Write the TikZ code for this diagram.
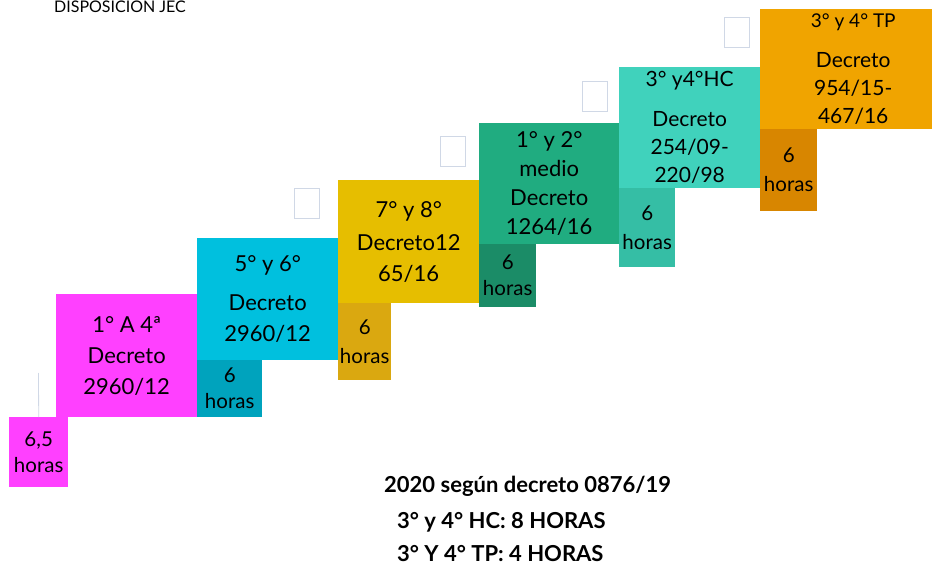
\documentclass[tikz,border=0pt]{standalone}
\usepackage{fontspec}
\setmainfont{Lato}
\definecolor{cPink}{RGB}{255,64,255}
\definecolor{cCyan}{RGB}{0,192,222}
\definecolor{cCyanD}{RGB}{0,163,189}
\definecolor{cYel}{RGB}{230,190,0}
\definecolor{cYelD}{RGB}{218,168,16}
\definecolor{cGrn}{RGB}{32,172,128}
\definecolor{cGrnD}{RGB}{27,140,103}
\definecolor{cTeal}{RGB}{64,210,188}
\definecolor{cTealD}{RGB}{53,190,165}
\definecolor{cOra}{RGB}{240,164,0}
\definecolor{cOraD}{RGB}{216,134,0}
\definecolor{cEdge}{RGB}{208,216,230}
\begin{document}
\begin{tikzpicture}[x=1pt,y=-1pt,
  blk/.style={draw=none, inner sep=0pt, anchor=north west, align=center, text=black,
    font=\fontsize{22}{31}\selectfont},
  sub/.style={blk, font=\fontsize{20.5}{26}\selectfont},
  emptybox/.style={draw=cEdge, line width=1pt, fill=white, inner sep=0pt, anchor=north west,
    minimum width=25pt, minimum height=30pt},
  note/.style={anchor=base west, inner sep=0pt, font=\bfseries\fontsize{22}{26}\selectfont}]
\useasboundingbox (0,0) rectangle (932,572);
\clip (0,0) rectangle (932,572);
\fill[white] (0,0) rectangle (932,572);

\node[anchor=base west, inner sep=0pt, font=\fontsize{16}{18}\selectfont] (title) at (54,13) {DISPOSICIÓN JEC};

% empty squares
\node[emptybox] (e1) at (294,188) {};
\node[emptybox] (e2) at (440,136) {};
\node[emptybox] (e3) at (582,81) {};
\node[emptybox] (e4) at (724,17) {};

% pink
\node[blk, fill=cPink, minimum width=141pt, minimum height=123pt] (p1) at (56,294)
  {1° A 4ª\\Decreto\\2960/12};
\node[sub, fill=cPink, minimum width=59pt, minimum height=70pt] (p2) at (9,417)
  {6,5\\horas};
\coordinate (ptop) at (38.5,373);
\draw[cEdge, line width=0.8pt] (ptop) -- (p2.north);

% cyan
\node[blk, fill=cCyan, minimum width=141pt, minimum height=122pt] (c1) at (197,238)
  {5° y 6°\\[8pt]Decreto\\2960/12};
\node[sub, fill=cCyanD, minimum width=65pt, minimum height=57pt] (c2) at (197,360)
  {6\\horas};

% yellow
\node[blk, fill=cYel, minimum width=141pt, minimum height=123pt] (y1) at (338,180)
  {7° y 8°\\[2pt]Decreto12\\65/16};
\node[sub, fill=cYelD, minimum width=53pt, minimum height=77pt] (y2) at (338,303)
  {6\\[3pt]horas};

% green
\node[blk, fill=cGrn, minimum width=140pt, minimum height=121pt,
  font=\fontsize{22}{29}\selectfont] (g1) at (479,123)
  {1° y 2°\\medio\\Decreto\\1264/16};
\node[sub, fill=cGrnD, minimum width=57pt, minimum height=63pt] (g2) at (479,244)
  {6\\horas};

% teal
\node[blk, fill=cTeal, minimum width=141pt, minimum height=121pt,
  font=\fontsize{21}{28}\selectfont] (t1) at (619,67)
  {3° y4°HC\\[12pt]Decreto\\254/09-\\220/98};
\node[sub, fill=cTealD, minimum width=56pt, minimum height=79pt] (t2) at (619,188)
  {6\\[3pt]horas};

% orange
\node[blk, fill=cOra, minimum width=186pt, minimum height=120pt,
  font=\fontsize{21}{28}\selectfont] (o1) at (760,9)
  {{\fontsize{19}{28}\selectfont 3° y 4° TP}\\[12pt]Decreto\\954/15-\\467/16};
\node[sub, fill=cOraD, minimum width=57pt, minimum height=82pt] (o2) at (760,129)
  {6\\[3pt]horas};

% notes
\node[note] (n1) at (384,492) {2020 según decreto 0876/19};
\node[note] (n2) at (397,528) {3° y 4° HC: 8 HORAS};
\node[note] (n3) at (397,561) {3° Y 4° TP: 4 HORAS};
\end{tikzpicture}
\end{document}
